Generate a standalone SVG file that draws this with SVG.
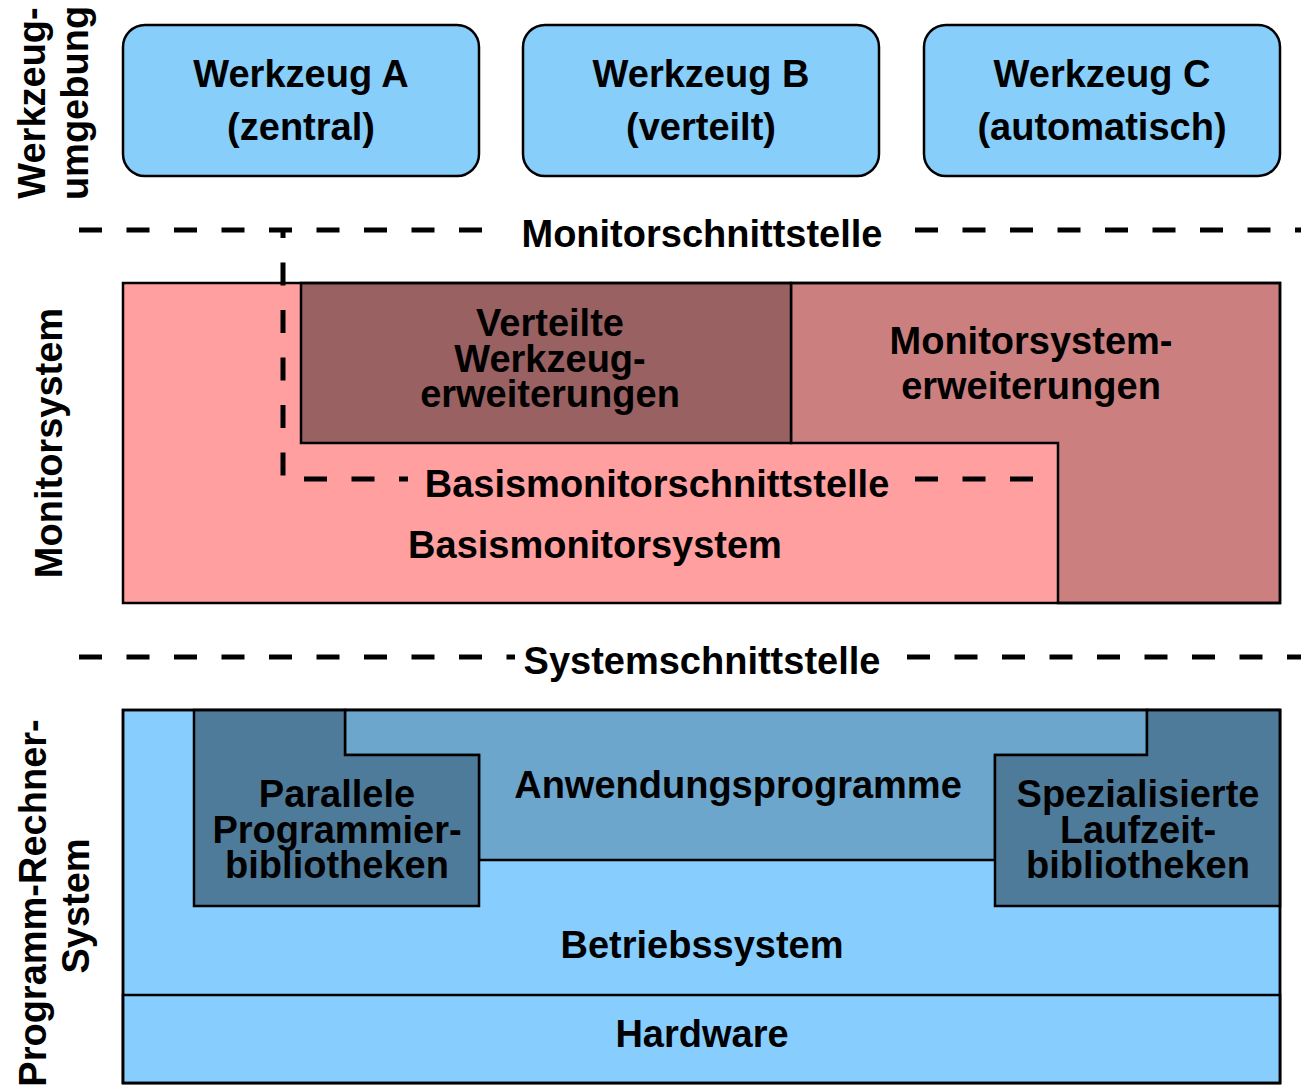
<svg xmlns="http://www.w3.org/2000/svg" width="1301" height="1089" viewBox="0 0 1301 1089">
<style>
text{font-family:"Liberation Sans",Arial,sans-serif;font-weight:bold;font-size:38px;fill:#000;text-anchor:middle}
.b{stroke:#000;stroke-width:2.5}
.d{stroke:#000;stroke-width:5;fill:none;stroke-dasharray:23 24.5}
</style>
<rect width="1301" height="1089" fill="#fff"/>
<g id="label-werkzeugumgebung">
<text transform="translate(45,103) rotate(-90)">Werkzeug-</text>
<text transform="translate(88,103) rotate(-90)">umgebung</text>
</g>
<g id="label-monitorsystem">
<text transform="translate(62,443) rotate(-90)">Monitorsystem</text>
</g>
<g id="label-programmrechner">
<text transform="translate(46,903) rotate(-90)">Programm-Rechner-</text>
<text transform="translate(89,906) rotate(-90)">System</text>
</g>
<g id="werkzeug-a">
<rect class="b" x="123" y="25" width="356" height="151" rx="22" fill="#87CEFA"/>
<text x="301" y="87">Werkzeug A</text>
<text x="301" y="140">(zentral)</text>
</g>
<g id="werkzeug-b">
<rect class="b" x="523" y="25" width="356" height="151" rx="22" fill="#87CEFA"/>
<text x="701" y="87">Werkzeug B</text>
<text x="701" y="140">(verteilt)</text>
</g>
<g id="werkzeug-c">
<rect class="b" x="924" y="25" width="356" height="151" rx="22" fill="#87CEFA"/>
<text x="1102" y="87">Werkzeug C</text>
<text x="1102" y="140">(automatisch)</text>
</g>
<g id="monitorsystem">
<rect x="123" y="283" width="1157" height="320" fill="#FF9F9F"/>
<polygon class="b" points="791,283 1280,283 1280,603 1058,603 1058,443 791,443" fill="#CC7F7F"/>
<rect class="b" x="301" y="283" width="490" height="160" fill="#996161"/>
<rect class="b" x="123" y="283" width="1157" height="320" fill="none"/>
<text x="550" y="336">Verteilte</text>
<text x="550" y="372">Werkzeug-</text>
<text x="550" y="407">erweiterungen</text>
<text x="1031" y="354">Monitorsystem-</text>
<text x="1031" y="399">erweiterungen</text>
<text x="657" y="497">Basismonitorschnittstelle</text>
<text x="595" y="558">Basismonitorsystem</text>
</g>
<g id="programm-rechner-system">
<rect class="b" x="123" y="710" width="1157" height="373" fill="#87CEFF"/>
<rect class="b" x="123" y="995" width="1157" height="88" fill="#87CEFF"/>
<polygon class="b" points="345,710 1147,710 1147,755 995,755 995,860 479,860 479,755 345,755" fill="#6CA6CD"/>
<polygon class="b" points="194,710 345,710 345,755 479,755 479,906 194,906" fill="#4F7B9A"/>
<polygon class="b" points="1147,710 1280,710 1280,906 995,906 995,755 1147,755" fill="#4F7B9A"/>
<rect class="b" x="123" y="710" width="1157" height="373" fill="none"/>
<text x="337" y="807">Parallele</text>
<text x="337" y="843">Programmier-</text>
<text x="337" y="878">bibliotheken</text>
<text x="738" y="798">Anwendungsprogramme</text>
<text x="1138" y="807">Spezialisierte</text>
<text x="1138" y="843">Laufzeit-</text>
<text x="1138" y="878">bibliotheken</text>
<text x="702" y="958">Betriebssystem</text>
<text x="702" y="1047">Hardware</text>
</g>
<g id="connectors">
<line class="d" x1="79" y1="230" x2="485" y2="230"/>
<line class="d" x1="915" y1="230" x2="1301" y2="230"/>
<line class="d" x1="283" y1="230" x2="283" y2="476" stroke-dashoffset="15"/>
<line class="d" x1="304" y1="479" x2="408" y2="479"/>
<line class="d" x1="915" y1="479" x2="1036" y2="479"/>
<line class="d" x1="79" y1="657" x2="515" y2="657"/>
<line class="d" x1="907" y1="657" x2="1301" y2="657"/>
</g>
<text x="702" y="247">Monitorschnittstelle</text>
<text x="702" y="674">Systemschnittstelle</text>
</svg>
